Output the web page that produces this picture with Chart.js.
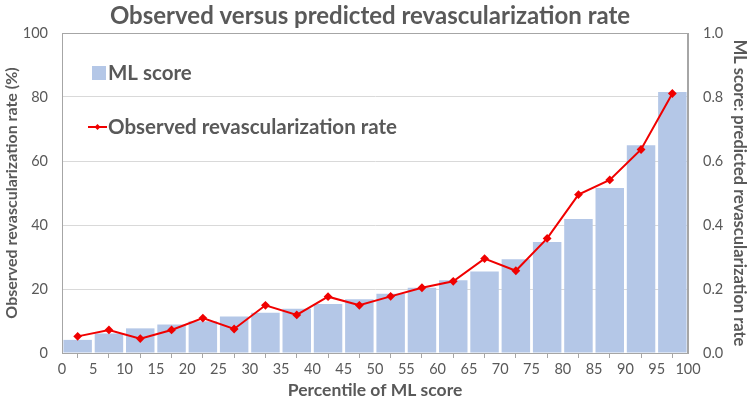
<!DOCTYPE html>
<html>
<head>
<meta charset="utf-8">
<script src="https://cdn.jsdelivr.net/npm/chart.js@4"></script>
<style>
  html, body { margin: 0; padding: 0; background: #fff; }
  #wrap { width: 750px; height: 403px; }
</style>
</head>
<body>
<div id="wrap"><canvas id="chart" width="750" height="403"></canvas></div>
<script>
// percentile bin centres
const percentiles = [2.5, 7.5, 12.5, 17.5, 22.5, 27.5, 32.5, 37.5, 42.5, 47.5,
  52.5, 57.5, 62.5, 67.5, 72.5, 77.5, 82.5, 87.5, 92.5, 97.5];

// mean ML score per bin (right axis, 0-1)
const mlScore = [0.041, 0.061, 0.077, 0.089, 0.099, 0.114, 0.126, 0.138, 0.153, 0.168,
  0.185, 0.204, 0.227, 0.255, 0.293, 0.347, 0.419, 0.516, 0.649, 0.816];

// observed revascularization rate per bin (left axis, %)
const observedRate = [5.2, 7.2, 4.5, 7.2, 10.9, 7.5, 14.9, 11.9, 17.6, 14.9,
  17.7, 20.4, 22.4, 29.5, 25.7, 35.8, 49.5, 54.1, 63.6, 81.1];

const TITLE = 'Observed versus predicted revascularization rate';
const TEXT = '#595959';
const FONT = 'Lato, "Open Sans", sans-serif';

// title, plot border and in-plot legend
const decorations = {
  id: 'decorations',
  afterDraw(chart) {
    const { ctx, chartArea: a } = chart;
    ctx.save();
    ctx.strokeStyle = '#A6A6A6';
    ctx.lineWidth = 1;
    ctx.strokeRect(a.left + 0.5, a.top + 0.5, a.right - a.left - 1, a.bottom - a.top);

    ctx.fillStyle = TEXT;
    ctx.font = 'bold 24px ' + FONT;
    ctx.textAlign = 'center';
    ctx.textBaseline = 'alphabetic';
    ctx.fillText(TITLE, 370, 24);

    // legend
    ctx.textAlign = 'left';
    ctx.textBaseline = 'middle';
    ctx.font = 'bold 20.5px ' + FONT;
    ctx.fillStyle = '#B4C7E7';
    ctx.fillRect(92, 66, 14, 14);
    ctx.fillStyle = TEXT;
    ctx.fillText(chart.data.datasets[1].label, 108, 73);

    ctx.strokeStyle = '#F00000';
    ctx.lineWidth = 2;
    ctx.beginPath();
    ctx.moveTo(88, 127);
    ctx.lineTo(107, 127);
    ctx.stroke();
    ctx.fillStyle = '#F00000';
    ctx.beginPath();
    ctx.moveTo(97.5, 124);
    ctx.lineTo(100.5, 127);
    ctx.lineTo(97.5, 130);
    ctx.lineTo(94.5, 127);
    ctx.closePath();
    ctx.fill();
    ctx.fillStyle = TEXT;
    ctx.fillText(chart.data.datasets[0].label, 108, 127);
    ctx.restore();
  }
};

new Chart(document.getElementById('chart'), {
  type: 'bar',
  data: {
    datasets: [
      {
        type: 'line',
        label: 'Observed revascularization rate',
        data: percentiles.map((p, i) => ({ x: p, y: observedRate[i] })),
        yAxisID: 'y',
        borderColor: '#F00000',
        backgroundColor: '#F00000',
        borderWidth: 2,
        pointStyle: 'rectRot',
        pointRadius: 3,
        tension: 0,
        order: 0
      },
      {
        type: 'bar',
        label: 'ML score',
        data: percentiles.map((p, i) => ({ x: p, y: mlScore[i] })),
        yAxisID: 'y1',
        backgroundColor: '#B4C7E7',
        barPercentage: 1,
        categoryPercentage: 0.91,
        order: 1
      }
    ]
  },
  options: {
    responsive: false,
    animation: false,
    layout: { padding: { top: 33, left: 0, right: 0, bottom: 0 } },
    plugins: {
      legend: { display: false },
      tooltip: { enabled: false }
    },
    scales: {
      x: {
        type: 'linear',
        min: 0,
        max: 100,
        offset: false,
        afterFit: s => { s.height = 50; },
        ticks: { stepSize: 5, padding: 3, color: TEXT, font: { family: FONT, size: 14.5 } },
        grid: { drawOnChartArea: false, tickLength: 5, color: '#A6A6A6' },
        border: { color: '#A6A6A6' },
        title: {
          display: true,
          text: 'Percentile of ML score',
          color: TEXT,
          font: { family: FONT, size: 17.5, weight: 'bold' },
          padding: { top: 0, bottom: 2 }
        }
      },
      y: {
        position: 'left',
        min: 0,
        max: 100,
        afterFit: s => { s.width = 62; },
        ticks: { stepSize: 20, padding: 14, color: TEXT, font: { family: FONT, size: 14.5 } },
        grid: { color: '#D9D9D9', drawTicks: false },
        border: { color: '#A6A6A6' },
        title: {
          display: true,
          text: 'Observed revascularization rate (%)',
          color: TEXT,
          font: { family: FONT, size: 16, weight: 'bold' },
          padding: { top: 2, bottom: 0 }
        }
      },
      y1: {
        position: 'right',
        min: 0,
        max: 1,
        afterFit: s => { s.width = 62; },
        ticks: {
          stepSize: 0.2,
          padding: 15,
          color: TEXT,
          font: { family: FONT, size: 14.5 },
          callback: v => v.toFixed(1)
        },
        grid: { drawOnChartArea: false, drawTicks: false },
        border: { color: '#A6A6A6' },
        title: {
          display: true,
          text: 'ML score: predicted revascularization rate',
          color: TEXT,
          font: { family: FONT, size: 16.5, weight: 'bold' },
          padding: { top: 1, bottom: 0 }
        }
      }
    }
  },
  plugins: [decorations]
});
</script>
</body>
</html>
